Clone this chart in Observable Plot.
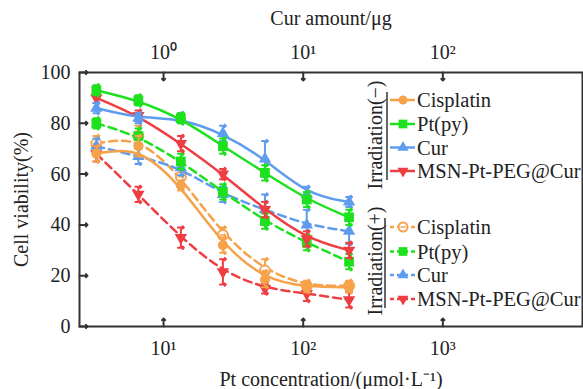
<!DOCTYPE html>
<html><head><meta charset="utf-8">
<script src="https://cdn.jsdelivr.net/npm/d3@7"></script>
<script src="https://cdn.jsdelivr.net/npm/@observablehq/plot@0.6"></script>
<style>body{margin:0;background:#fff}#chart{width:583px;height:389px}</style>
</head><body><div id="chart"></div>
<script>
// ---- data ----
const conc = [3.3, 6.6, 13.3, 26.6, 53.2, 106, 213];          // Pt concentration, µmol/L
const seriesNames = ["Cisplatin", "Pt(py)", "Cur", "MSN-Pt-PEG@Cur"];
const groupNames = ["Irradiation(−)", "Irradiation(+)"];
// Irradiation(−)
const cisNeg = [68, 71, 55.5, 32, 18.5, 15.5, 15.5];
const cisNegErr = [3, 4, 2, 3, 3, 2, 2];
const ptNeg = [93, 89, 82, 71, 60.5, 50, 43];
const ptNegErr = [2, 2, 2, 3, 3, 3, 3];
const curNeg = [86, 82, 82, 76, 66, 52, 49];
const curNegErr = [2, 2, 2, 3, 7, 3, 2];
const msnNeg = [90, 83, 72, 60, 46, 34.5, 30];
const msnNegErr = [2, 2, 3, 2, 3, 3, 3];
// Irradiation(+)
const cisPos = [72, 75, 59, 36, 22, 16, 16];
const cisPosErr = [3, 4, 3, 3, 4.5, 2, 2];
const ptPos = [80, 75, 65, 53, 41.5, 33, 25.5];
const ptPosErr = [2, 3, 3, 3, 3, 3, 3];
const curPos = [71, 67, 62.5, 52, 46, 40, 37.5];
const curPosErr = [3, 3, 3, 3, 6, 6, 5];
const msnPos = [68, 52, 35, 21.5, 15, 13, 10.5];
const msnPosErr = [3, 3, 4, 5, 2, 3, 3];

const yTicks = [0, 20, 40, 60, 80, 100];
const xTicks = [10, 100, 1000];
const topTickLabels = ["10⁰", "10¹", "10²"];
const bottomTickLabels = ["10¹", "10²", "10³"];

// ---- styles ----
const colors = ["#F5A24A", "#1EE11E", "#5E9CEE", "#EE3E42"];
const symbols = ["circle", "square", "triangle", "triangle"];
const rotations = [0, 0, 0, 180];
const radii = [5, 5.5, 4.6, 4.6];

const valueSets = [[cisNeg, ptNeg, curNeg, msnNeg], [cisPos, ptPos, curPos, msnPos]];
const errSets = [[cisNegErr, ptNegErr, curNegErr, msnNegErr], [cisPosErr, ptPosErr, curPosErr, msnPosErr]];

const marks = [];
// ticks (inward)
marks.push(Plot.vector(yTicks, {y: d => d, frameAnchor: "left", rotate: 90, length: 8, anchor: "start", stroke: "#333", strokeWidth: 2}));
marks.push(Plot.vector(xTicks, {x: d => d, frameAnchor: "bottom", rotate: 0, length: 8, anchor: "start", stroke: "#333", strokeWidth: 2}));
marks.push(Plot.vector(xTicks, {x: d => d, frameAnchor: "top", rotate: 180, length: 8, anchor: "start", stroke: "#333", strokeWidth: 2}));

const order = [[1,0],[1,2],[1,1],[1,3],[0,0],[0,3],[0,2],[0,1]];
for (const [gi, si] of order) {
  const vals = valueSets[gi][si], errs = errSets[gi][si];
  const rows = conc.map((x, i) => ({x, y: vals[i], e: errs[i]}));
  const c = colors[si];
  marks.push(Plot.line(rows, {x: "x", y: "y", curve: "basis", stroke: c, strokeWidth: 2.5,
    strokeDasharray: gi === 1 ? "8,5" : null}));
  marks.push(Plot.ruleX(rows, {x: "x", y1: d => d.y - d.e, y2: d => d.y + d.e, stroke: c, strokeWidth: 2}));
  marks.push(Plot.vector(rows, {x: "x", y: d => d.y + d.e, rotate: 90, length: 6, anchor: "middle", stroke: c, strokeWidth: 2}));
  marks.push(Plot.vector(rows, {x: "x", y: d => d.y - d.e, rotate: 90, length: 6, anchor: "middle", stroke: c, strokeWidth: 2}));
  if (gi === 1 && si === 0) {
    marks.push(Plot.dot(rows, {x: "x", y: "y", r: 5, fill: "white", stroke: c, strokeWidth: 2}));
    marks.push(Plot.vector(rows, {x: "x", y: "y", rotate: 90, length: 5, anchor: "middle", stroke: c, strokeWidth: 1.5}));
  } else {
    marks.push(Plot.dot(rows, {x: "x", y: "y", symbol: symbols[si], r: radii[si], fill: c, stroke: "none", rotate: rotations[si]}));
  }
}

marks.push(Plot.frame({stroke: "#333", strokeWidth: 2}));
marks.push(Plot.axisY({ticks: yTicks, tickSize: 0, tickPadding: 9, label: "Cell viability(%)", labelAnchor: "center", labelOffset: 66, labelArrow: "none"}));
marks.push(Plot.axisX({anchor: "bottom", ticks: xTicks, tickFormat: d => bottomTickLabels[xTicks.indexOf(d)], tickSize: 0, tickPadding: 14,
  label: "Pt concentration/(μmol·L⁻¹)", labelAnchor: "center", labelOffset: 59, labelArrow: "none"}));
marks.push(Plot.axisX({anchor: "top", ticks: xTicks, tickFormat: d => topTickLabels[xTicks.indexOf(d)], tickSize: 0, tickPadding: 14,
  label: "Cur amount/μg", labelAnchor: "center", labelOffset: 62, labelArrow: "none"}));

const plot = Plot.plot({
  width: 583, height: 389,
  marginLeft: 79, marginRight: 1, marginTop: 72, marginBottom: 63,
  x: {type: "log", domain: [2.5, 10000]},
  y: {domain: [0, 100]},
  style: {fontFamily: "'Liberation Serif', 'Times New Roman', serif", fontSize: "20px", color: "#222", background: "#fff"},
  marks
});
document.getElementById("chart").appendChild(plot);

// ---- legend ----
const svg = d3.select(plot);
const lg = svg.append("g").attr("font-family", "'Liberation Serif', serif").attr("font-size", 20).attr("fill", "#222");
const groupLayout = [
  {cx: 375, cy: 135, lineX: 387, y0: 92, y1: 180, rows: [100, 124, 147.5, 171]},
  {cx: 375, cy: 261, lineX: 385, y0: 218, y1: 308, rows: [227, 251.5, 275, 299]}
];
groupLayout.forEach((L, gi) => {
  lg.append("text").attr("transform", `translate(${L.cx},${L.cy}) rotate(-90)`)
    .attr("text-anchor", "middle").attr("dominant-baseline", "central").text(groupNames[gi]);
  lg.append("line").attr("x1", L.lineX).attr("x2", L.lineX).attr("y1", L.y0).attr("y2", L.y1)
    .attr("stroke", "#333").attr("stroke-width", 1.5);
  seriesNames.forEach((name, si) => {
    const y = L.rows[si], c = colors[si];
    lg.append("line").attr("x1", 390).attr("x2", 415).attr("y1", y).attr("y2", y)
      .attr("stroke", c).attr("stroke-width", 2.5).attr("stroke-dasharray", gi ? "4,3" : null);
    if (gi === 1 && si === 0) {
      lg.append("circle").attr("cx", 403).attr("cy", y).attr("r", 4.5).attr("fill", "white").attr("stroke", c).attr("stroke-width", 2);
      lg.append("line").attr("x1", 400.5).attr("x2", 405.5).attr("y1", y).attr("y2", y).attr("stroke", c).attr("stroke-width", 1.5);
    } else {
      const sym = [d3.symbolCircle, d3.symbolSquare, d3.symbolTriangle, d3.symbolTriangle][si];
      const size = Math.PI * radii[si] * radii[si] * 0.8;
      lg.append("path").attr("d", d3.symbol(sym, size)())
        .attr("transform", `translate(403,${y}) rotate(${rotations[si]})`).attr("fill", c);
    }
    lg.append("text").attr("x", 417).attr("y", y).attr("text-anchor", "start")
      .attr("dominant-baseline", "central").attr("font-size", 20.5).text(name);
  });
});
</script></body></html>
